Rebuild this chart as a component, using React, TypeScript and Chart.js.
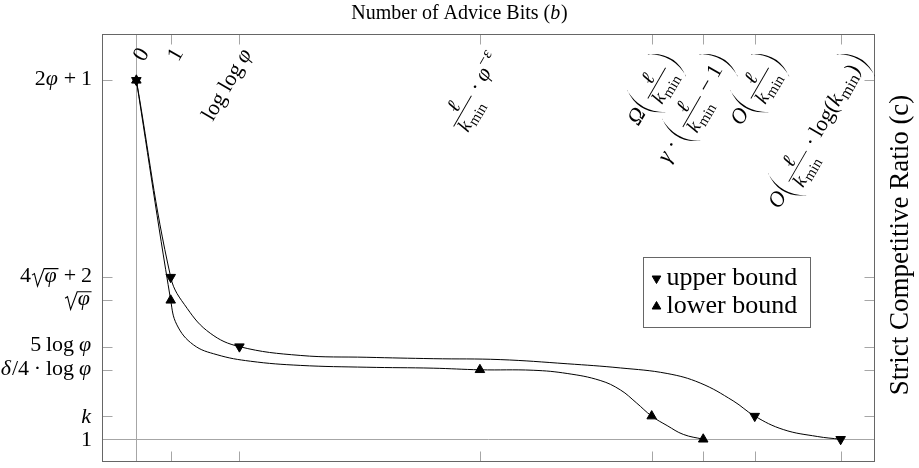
import React, { useEffect, useRef } from 'react';
import { Chart, registerables } from 'chart.js';

Chart.register(...registerables);

const FONT = '"Liberation Serif", "DejaVu Serif", serif';

// Marked data points (x = advice bits position, y = competitive ratio position)
const upperX = [0, 1, 3, 18, 20.5];
const upperY = [16.5, 8, 5, 2, 1];
const lowerX = [0, 1, 10, 15, 16.5];
const lowerY = [16.5, 7, 4, 2, 1];

// Smooth curve paths (pass through the marks)
const upperPathX = [0, 1, 1.48, 2.15, 3, 4.77, 6.71, 8.64, 10.59, 12.54, 14.09, 15.45, 16.41, 17.37, 18, 18.83, 19.82, 20.5];
const upperPathY = [16.5, 8, 6.65, 5.58, 5, 4.62, 4.54, 4.48, 4.44, 4.26, 4.08, 3.84, 3.43, 2.66, 2, 1.42, 1.12, 1];
const lowerPathX = [0, 1, 1.18, 1.66, 2.35, 3.32, 4.77, 6.71, 8.64, 10, 11.55, 12.54, 13.5, 14.09, 14.55, 15, 15.45, 15.92, 16.5];
const lowerPathY = [16.5, 7, 5.94, 5.08, 4.65, 4.37, 4.19, 4.11, 4.07, 4, 3.98, 3.84, 3.54, 3.13, 2.58, 2, 1.59, 1.21, 1];

// Axes
const xMin = -1;
const xMax = 21.5;
const yMin = 0.04;
const yMax = 18.5;
const xTicks = [0, 1, 3, 10, 15, 16.5, 18, 20.5];
const xTickLabels = [
  '0',
  '1',
  '\\r{log log} φ',
  '\\f{ℓ}{k_{\\r{min}}} · φ^{−ε}',
  'Ω\\(\\f{ℓ}{k_{\\r{min}}}\\)',
  'γ · \\(\\f{ℓ}{k_{\\r{min}}} − 1\\)',
  'O\\(\\f{ℓ}{k_{\\r{min}}}\\)',
  'O\\(\\f{ℓ}{k_{\\r{min}}} · \\r{log}(k_{\\r{min}})\\)',
];
const yTicks = [1, 2, 4, 5, 7, 8, 16.5];
const yTickLabels = ['1', 'k', 'δ/4 · \\r{log} φ', '5 \\r{log} φ', '\\s{φ}', '4\\s{φ} + 2', '2φ + 1'];
const gridX = [0];
const gridY = [1];
const xTitle = '\\r{Number of Advice Bits }(b)';
const yTitle = '\\r{Strict Competitive Ratio (c)}';
const legendLabels = ['upper bound', 'lower bound'];

type Seg =
  | { k: 't'; s: string; it: boolean }
  | { k: 'sp' }
  | { k: 'f'; n: Seg[]; d: Seg[] }
  | { k: 'q'; c: Seg[] }
  | { k: 'sub'; c: Seg[] }
  | { k: 'sup'; c: Seg[] }
  | { k: 'P'; s: string };

function parseMath(src: string): Seg[] {
  let i = 0;
  const isIt = (ch: string) => /[A-Za-z\u0370-\u03FF\u2113]/.test(ch);
  function readGroup(roman: boolean): Seg[] {
    if (src[i] === '{') {
      i++;
      const r = seq(roman);
      i++;
      return r;
    }
    const ch = src[i++];
    return [{ k: 't', s: ch, it: !roman && isIt(ch) }];
  }
  function seq(roman: boolean): Seg[] {
    const out: Seg[] = [];
    while (i < src.length && src[i] !== '}') {
      const ch = src[i];
      if (ch === '\\') {
        const nx = src[i + 1];
        i += 2;
        if (nx === '(' || nx === ')') out.push({ k: 'P', s: nx });
        else if (nx === 'f') {
          const n = readGroup(roman);
          const d = readGroup(roman);
          out.push({ k: 'f', n, d });
        } else if (nx === 's') out.push({ k: 'q', c: readGroup(roman) });
        else if (nx === 'r') out.push(...readGroup(true));
        continue;
      }
      if (ch === '_') {
        i++;
        out.push({ k: 'sub', c: readGroup(roman) });
        continue;
      }
      if (ch === '^') {
        i++;
        out.push({ k: 'sup', c: readGroup(roman) });
        continue;
      }
      if (ch === ' ' && !roman) {
        i++;
        out.push({ k: 'sp' });
        continue;
      }
      i++;
      const it = !roman && isIt(ch);
      const last = out[out.length - 1];
      if (last && last.k === 't' && last.it === it) last.s += ch;
      else out.push({ k: 't', s: ch, it });
    }
    return out;
  }
  return seq(false);
}

type Box = { w: number; a: number; d: number };

function layout(ctx: CanvasRenderingContext2D, segs: Seg[], size: number, x: number, y: number, draw: boolean): Box {
  let w = 0;
  let a = 0;
  let d = 0;
  for (const s of segs) {
    if (s.k === 't') {
      ctx.font = `${s.it ? 'italic ' : ''}${size}px ${FONT}`;
      const m = ctx.measureText(s.s);
      if (draw) ctx.fillText(s.s, x + w, y);
      w += m.width + (s.it ? size * 0.04 : 0);
      a = Math.max(a, m.actualBoundingBoxAscent);
      d = Math.max(d, m.actualBoundingBoxDescent);
    } else if (s.k === 'sp') {
      w += size * 0.22;
    } else if (s.k === 'sub' || s.k === 'sup') {
      const sz = size * 0.75;
      const dy = s.k === 'sub' ? size * 0.2 : -size * 0.4;
      const m = layout(ctx, s.c, sz, x + w, y + dy, draw);
      w += m.w;
      a = Math.max(a, m.a - dy);
      d = Math.max(d, m.d + dy);
    } else if (s.k === 'f') {
      const sz = size * 0.9;
      const mn = layout(ctx, s.n, sz, 0, 0, false);
      const md = layout(ctx, s.d, sz, 0, 0, false);
      const fw = Math.max(mn.w, md.w) + size * 0.25;
      const axis = y - size * 0.27;
      const gap = size * 0.12;
      const nb = axis - gap - mn.d;
      const db = axis + gap + md.a;
      if (draw) {
        layout(ctx, s.n, sz, x + w + (fw - mn.w) / 2, nb, true);
        layout(ctx, s.d, sz, x + w + (fw - md.w) / 2, db, true);
        ctx.fillRect(x + w + size * 0.06, axis - 0.45, fw - size * 0.12, 0.9);
      }
      w += fw;
      a = Math.max(a, y - (nb - mn.a));
      d = Math.max(d, db + md.d - y);
    } else if (s.k === 'q') {
      const mc = layout(ctx, s.c, size, 0, 0, false);
      const top = Math.max(mc.a, size * 0.45) + size * 0.14;
      const rw = size * 0.62;
      if (draw) {
        ctx.save();
        ctx.lineWidth = Math.max(0.9, size * 0.05);
        ctx.lineJoin = 'miter';
        ctx.beginPath();
        ctx.moveTo(x + w + size * 0.05, y - size * 0.3);
        ctx.lineTo(x + w + size * 0.16, y - size * 0.37);
        ctx.lineTo(x + w + size * 0.3, y + mc.d * 0.9);
        ctx.lineTo(x + w + rw - size * 0.02, y - top);
        ctx.lineTo(x + w + rw + mc.w + size * 0.04, y - top);
        ctx.stroke();
        ctx.restore();
        layout(ctx, s.c, size, x + w + rw, y, true);
      }
      w += rw + mc.w + size * 0.06;
      a = Math.max(a, top + 1);
      d = Math.max(d, mc.d);
    } else if (s.k === 'P') {
      // tall thin delimiter, centred on the math axis
      const H = size * 2.0;
      const W = size * 0.36;
      const th = size * 0.075;
      const cy = y - size * 0.27;
      const top = cy - H / 2;
      const bot = cy + H / 2;
      if (draw) {
        ctx.beginPath();
        if (s.s === '(') {
          const x0 = x + w + size * 0.06;
          const xe = x0 + W;
          ctx.moveTo(xe, top);
          ctx.quadraticCurveTo(2 * x0 - xe, cy, xe, bot);
          ctx.lineTo(xe - 0.3, bot);
          ctx.quadraticCurveTo(2 * (x0 + th) - xe, cy, xe - 0.3, top);
        } else {
          const x1 = x + w + size * 0.06 + W;
          const xs = x1 - W;
          ctx.moveTo(xs, top);
          ctx.quadraticCurveTo(2 * x1 - xs, cy, xs, bot);
          ctx.lineTo(xs + 0.3, bot);
          ctx.quadraticCurveTo(2 * (x1 - th) - xs, cy, xs + 0.3, top);
        }
        ctx.closePath();
        ctx.fill();
      }
      w += W + size * 0.14;
      a = Math.max(a, y - top);
      d = Math.max(d, bot - y);
    }
  }
  return { w, a, d };
}

const AXIS_COLOR = '#666666';
const TICK_COLOR = '#a6a6a6';
const GRID_COLOR = '#a6a6a6';
const LABEL_SIZE = 22;
const TITLE_SIZE = 20;
const YTITLE_SIZE = 27;
const LEGEND_SIZE = 26;

const decor = {
  id: 'decor',
  beforeDatasetsDraw(chart: any) {
    const { ctx, chartArea: ca, scales } = chart;
    ctx.save();
    ctx.strokeStyle = GRID_COLOR;
    ctx.lineWidth = 1;
    ctx.beginPath();
    for (const v of gridX) {
      const px = Math.round(scales.x.getPixelForValue(v)) + 0.5;
      ctx.moveTo(px, ca.top);
      ctx.lineTo(px, ca.bottom);
    }
    for (const v of gridY) {
      const py = Math.round(scales.y.getPixelForValue(v)) + 0.5;
      ctx.moveTo(ca.left, py);
      ctx.lineTo(ca.right, py);
    }
    ctx.stroke();
    ctx.restore();
  },
  afterDatasetsDraw(chart: any) {
    const { ctx, chartArea: ca, scales } = chart;
    const L = Math.round(ca.left) + 0.5;
    const R = Math.round(ca.right) - 0.5;
    const T = Math.round(ca.top) + 0.5;
    const B = Math.round(ca.bottom) - 0.5;
    ctx.save();
    // tick marks
    ctx.strokeStyle = TICK_COLOR;
    ctx.lineWidth = 1;
    ctx.beginPath();
    for (const v of xTicks) {
      const px = Math.round(scales.x.getPixelForValue(v)) + 0.5;
      ctx.moveTo(px, T);
      ctx.lineTo(px, T + 10);
      ctx.moveTo(px, B);
      ctx.lineTo(px, B - 10);
    }
    for (const v of yTicks) {
      const py = Math.round(scales.y.getPixelForValue(v)) + 0.5;
      ctx.moveTo(L, py);
      ctx.lineTo(L + 10, py);
      ctx.moveTo(R, py);
      ctx.lineTo(R - 10, py);
    }
    ctx.stroke();
    // frame
    ctx.strokeStyle = AXIS_COLOR;
    ctx.strokeRect(L, T, R - L, B - T);

    ctx.fillStyle = '#000';
    ctx.strokeStyle = '#000';
    ctx.textAlign = 'left';
    ctx.textBaseline = 'alphabetic';

    // y tick labels (anchor: east)
    yTicks.forEach((v, i) => {
      const segs = parseMath(yTickLabels[i]);
      const py = scales.y.getPixelForValue(v);
      const m = layout(ctx, segs, LABEL_SIZE, 0, 0, false);
      layout(ctx, segs, LABEL_SIZE, ca.left - 10 - m.w, py + (m.a - m.d) / 2, true);
    });

    // x tick labels (rotated 60deg, hanging from the tick ends, anchor: north east)
    const ang = (-60 * Math.PI) / 180;
    xTicks.forEach((v, i) => {
      const segs = parseMath(xTickLabels[i]);
      const px = scales.x.getPixelForValue(v);
      const m = layout(ctx, segs, LABEL_SIZE, 0, 0, false);
      ctx.save();
      ctx.translate(px + 1, ca.top + 12);
      ctx.rotate(ang);
      layout(ctx, segs, LABEL_SIZE, -m.w, m.a, true);
      ctx.restore();
    });

    // titles
    const ts = parseMath(xTitle);
    const tm = layout(ctx, ts, TITLE_SIZE, 0, 0, false);
    layout(ctx, ts, TITLE_SIZE, 459.5 - tm.w / 2, 19, true);

    const ys = parseMath(yTitle);
    const ym = layout(ctx, ys, YTITLE_SIZE, 0, 0, false);
    ctx.save();
    ctx.translate(908, 245);
    ctx.rotate(-Math.PI / 2);
    layout(ctx, ys, YTITLE_SIZE, -ym.w / 2, 0, true);
    ctx.restore();

    // legend
    const lx = 643.5;
    const ly = 257.5;
    const lw = 167;
    const lh = 70;
    ctx.fillStyle = '#fff';
    ctx.fillRect(lx, ly, lw, lh);
    ctx.strokeStyle = AXIS_COLOR;
    ctx.lineWidth = 1;
    ctx.strokeRect(lx, ly, lw, lh);
    legendLabels.forEach((lab, i) => {
      const cy = ly + 20 + i * 28;
      const style = chart.getDatasetMeta(i).controller.getStyle(0);
      ctx.save();
      ctx.fillStyle = '#000';
      ctx.strokeStyle = '#000';
      ctx.lineWidth = 1;
      ctx.translate(lx + 13, cy + 1);
      ctx.rotate(((style.rotation || 0) * Math.PI) / 180);
      const r = 5;
      ctx.beginPath();
      ctx.moveTo(0, -r);
      ctx.lineTo(r * 0.866, r * 0.5);
      ctx.lineTo(-r * 0.866, r * 0.5);
      ctx.closePath();
      ctx.fill();
      ctx.stroke();
      ctx.restore();
      ctx.fillStyle = '#000';
      ctx.font = `${LEGEND_SIZE}px ${FONT}`;
      ctx.fillText(lab, lx + 23, cy + 7);
    });
    ctx.restore();
  },
};

export default function App() {
  const ref = useRef<HTMLCanvasElement>(null);
  useEffect(() => {
    const cv = ref.current;
    if (!cv) return;
    const pts = (xs: number[], ys: number[]) => xs.map((x, i) => ({ x, y: ys[i] }));
    const chart = new Chart(cv, {
      type: 'line',
      data: {
        datasets: [
          {
            label: 'upper bound',
            data: pts(upperX, upperY),
            showLine: false,
            pointStyle: 'triangle',
            pointRotation: 180,
            pointRadius: 5.5,
            pointBackgroundColor: '#000',
            pointBorderColor: '#000',
            pointBorderWidth: 1,
          },
          {
            label: 'lower bound',
            data: pts(lowerX, lowerY),
            showLine: false,
            pointStyle: 'triangle',
            pointRotation: 0,
            pointRadius: 5.5,
            pointBackgroundColor: '#000',
            pointBorderColor: '#000',
            pointBorderWidth: 1,
          },
          {
            label: 'upper path',
            data: pts(upperPathX, upperPathY),
            borderColor: '#000',
            borderWidth: 1,
            pointRadius: 0,
            tension: 0.4,
            fill: false,
          },
          {
            label: 'lower path',
            data: pts(lowerPathX, lowerPathY),
            borderColor: '#000',
            borderWidth: 1,
            pointRadius: 0,
            tension: 0.4,
            fill: false,
          },
        ],
      } as any,
      options: {
        responsive: false,
        animation: false,
        events: [],
        layout: { padding: { left: 102, top: 34, right: 44, bottom: 4 } },
        plugins: { legend: { display: false }, tooltip: { enabled: false } },
        scales: {
          x: { type: 'linear', min: xMin, max: xMax, display: false },
          y: { type: 'linear', min: yMin, max: yMax, display: false },
        },
      },
      plugins: [decor],
    });
    return () => chart.destroy();
  }, []);
  return (
    <div style={{ position: 'fixed', left: 0, top: 0, width: 919, height: 468, background: '#fff' }}>
      <canvas ref={ref} width={919} height={468} style={{ display: 'block', width: 919, height: 468 }} />
    </div>
  );
}
